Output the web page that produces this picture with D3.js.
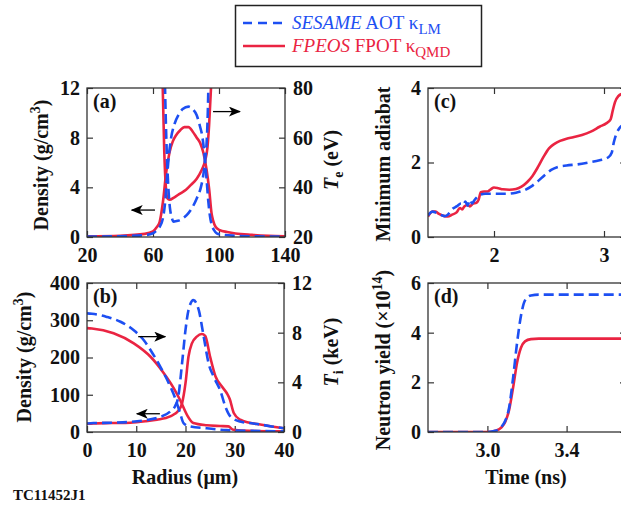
<!DOCTYPE html>
<html>
<head>
<meta charset="utf-8">
<script src="https://cdn.jsdelivr.net/npm/d3@7"></script>
<style>
  body { margin: 0; background: #fff; }
  .tick text { font-size: 20px; font-weight: bold; fill: #111; }
  .tick line { stroke: #333; stroke-width: 1.2; }
  .lbl { font-size: 20px; font-weight: bold; fill: #111; }
</style>
</head>
<body>
<div id="chart"></div>
<script>
// ---- colours ----
const BLUE = "#1d4ff2", RED = "#ea2442";
const SERIF = "Liberation Serif, Times New Roman, Times, Tinos, Nimbus Roman, FreeSerif, DejaVu Serif, Noto Serif, serif";

// ---- panel (a): radius (um) vs density (g/cm3) and Te (eV) ----
const aDensR_red  = [20, 40, 55, 60, 62, 64, 66, 68, 70, 72, 74, 76.5, 79, 81.5, 84, 86.5, 88.5, 90.5, 92.5, 94, 95.5, 96.5, 98, 100.5, 105, 110, 120, 130, 140];
const aDensV_red  = [0.05, 0.1, 0.25, 0.45, 0.75, 1.2, 2.8, 5.2, 6.8, 7.7, 8.2, 8.6, 8.85, 8.85, 8.5, 8.0, 7.6, 6.8, 5.4, 3.9, 1.9, 1.3, 0.8, 0.55, 0.4, 0.28, 0.17, 0.1, 0.06];
const aDensR_blue = [20, 40, 55, 60, 62, 64, 66, 67.5, 68.5, 69.5, 71, 73, 75.5, 78, 81.5, 84, 86.5, 88.5, 90, 91.5, 92.5, 93.5, 94.5, 95.6, 97, 98.6, 102, 110, 120, 130, 140];
const aDensV_blue = [0.03, 0.06, 0.15, 0.3, 0.5, 0.8, 1.5, 3.0, 4.8, 6.4, 8.0, 9.1, 9.85, 10.3, 10.5, 10.3, 9.8, 8.9, 8.0, 6.2, 4.6, 2.9, 1.7, 0.97, 0.55, 0.3, 0.18, 0.1, 0.06, 0.04, 0.03];
const aTeR_red    = [64.5, 65.9, 66.8, 67.8, 68.8, 70, 73, 76.4, 80, 83, 86.5, 89.5, 91.5, 93, 94, 95, 95.8, 97];
const aTeV_red    = [130, 80, 55, 40, 35.5, 35, 36, 37.5, 39, 41, 43.5, 47, 50.5, 56, 65, 78, 90, 130];
const aTeR_blue   = [66, 67.3, 68.3, 69.3, 70.3, 71.3, 72.5, 75, 78, 80.4, 83, 86.5, 89, 90.5, 91.7, 92.5, 93.2, 93.6, 94.5];
const aTeV_blue   = [130, 80, 55, 40, 31.5, 28, 26.2, 26.5, 27.5, 28.8, 31, 35.5, 40, 45, 52, 58, 70, 82, 130];

// ---- panel (b): radius (um) vs density (g/cm3) and Ti (keV) ----
const bDensR_red  = [0, 1.3, 5, 8.8, 12, 14.2, 16.9, 18.6, 19.3, 20, 20.6, 21.3, 22.3, 23.3, 24, 25, 26.1, 27.4, 28.4, 29, 29.8, 31.1, 33, 35.2, 37.5, 40];
const bDensV_red  = [22, 23, 24, 25, 29, 33, 42, 58, 77, 131, 202, 238, 256, 263, 258, 202, 149, 122, 104, 88, 51, 33, 25, 20, 15, 10];
const bDensR_blue = [0, 1.3, 5, 8.8, 12, 14.2, 16.9, 17.9, 18.5, 19.3, 20, 20.6, 21.6, 22.7, 23.7, 24.7, 25.7, 27.1, 28.1, 29.1, 31.1, 33, 35.2, 37.5, 40];
const bDensV_blue = [23, 24, 25, 27, 32, 38, 55, 70, 92, 184, 274, 327, 354, 327, 256, 184, 149, 110, 68, 42, 28, 24, 20, 15, 10];
const bTiR_red    = [0, 1, 5.4, 9.5, 12.9, 15.6, 17.6, 18.9, 20.3, 21.6, 24.3, 27, 28.7, 29.7, 33, 40];
const bTiV_red    = [8.37, 8.34, 7.95, 7.14, 6.06, 4.74, 3.54, 2.58, 1.38, 0.72, 0.54, 0.48, 0.45, 0.18, 0.09, 0.06];
const bTiR_blue   = [0, 1, 4, 6.8, 9.5, 11.5, 13.5, 14.9, 16.6, 17.9, 18.9, 19.6, 20.9, 24.3, 28.3, 33.7, 40];
const bTiV_blue   = [9.55, 9.52, 9.27, 8.88, 8.19, 7.41, 6.21, 5.25, 3.93, 2.73, 1.53, 0.72, 0.45, 0.3, 0.15, 0.09, 0.06];

// ---- panel (c): time (ns) vs minimum adiabat ----
const cT_red  = [1.40, 1.44, 1.47, 1.50, 1.55, 1.58, 1.62, 1.66, 1.69, 1.71, 1.73, 1.76, 1.78, 1.81, 1.84, 1.86, 1.88, 1.91, 1.94, 1.97, 2.00, 2.04, 2.08, 2.14, 2.20, 2.25, 2.30, 2.35, 2.40, 2.45, 2.50, 2.55, 2.60, 2.66, 2.72, 2.80, 2.88, 2.96, 3.02, 3.06, 3.08, 3.10, 3.13, 3.17];
const cV_red  = [0.55, 0.68, 0.68, 0.62, 0.56, 0.55, 0.60, 0.66, 0.78, 0.74, 0.82, 0.86, 0.82, 0.90, 0.92, 1.00, 1.20, 1.22, 1.22, 1.28, 1.33, 1.31, 1.28, 1.27, 1.29, 1.35, 1.47, 1.64, 1.88, 2.15, 2.38, 2.50, 2.58, 2.64, 2.68, 2.74, 2.83, 2.96, 3.05, 3.16, 3.40, 3.62, 3.78, 3.85];
const cT_blue = [1.40, 1.44, 1.47, 1.50, 1.55, 1.58, 1.62, 1.66, 1.70, 1.72, 1.74, 1.76, 1.78, 1.80, 1.82, 1.85, 1.88, 1.92, 2.00, 2.10, 2.20, 2.28, 2.34, 2.40, 2.46, 2.52, 2.58, 2.66, 2.76, 2.86, 2.96, 3.04, 3.07, 3.09, 3.11, 3.14, 3.18];
const cV_blue = [0.58, 0.68, 0.66, 0.62, 0.56, 0.60, 0.75, 0.82, 0.90, 0.86, 0.95, 0.84, 1.00, 0.90, 0.98, 1.08, 1.14, 1.16, 1.16, 1.16, 1.19, 1.26, 1.36, 1.50, 1.66, 1.80, 1.88, 1.92, 1.95, 2.00, 2.06, 2.14, 2.26, 2.55, 2.75, 2.92, 3.02];

// ---- panel (d): time (ns) vs neutron yield (x1e14) ----
const dT_red  = [2.70, 3.00, 3.04, 3.07, 3.09, 3.11, 3.13, 3.15, 3.17, 3.19, 3.22, 3.26, 3.70];
const dV_red  = [0, 0, 0.05, 0.18, 0.40, 0.90, 1.80, 2.80, 3.40, 3.65, 3.74, 3.76, 3.76];
const dT_blue = [2.70, 3.00, 3.04, 3.07, 3.09, 3.11, 3.13, 3.15, 3.17, 3.19, 3.22, 3.26, 3.70];
const dV_blue = [0, 0, 0.05, 0.20, 0.45, 1.00, 2.20, 3.60, 4.70, 5.30, 5.50, 5.53, 5.53];

// ---- ticks ----
const aXTicks = [20, 60, 100, 140], aYTicks = [0, 4, 8, 12], aY2Ticks = [20, 40, 60, 80];
const bXTicks = [0, 10, 20, 30, 40], bYTicks = [0, 100, 200, 300, 400], bY2Ticks = [0, 4, 8, 12];
const cXTicks = [2, 3], cYTicks = [0, 2, 4];
const dXTicks = [3.0, 3.4], dYTicks = [0, 2, 4, 6];

const W = 621, H = 506;
const svg = d3.select("#chart").append("svg").attr("width", W).attr("height", H);
svg.append("rect").attr("width", W).attr("height", H).attr("fill", "#fff");

const defs = svg.append("defs");
defs.append("marker").attr("id", "arr")
    .attr("viewBox", "0 0 12 10").attr("refX", 11).attr("refY", 5)
    .attr("markerWidth", 12).attr("markerHeight", 10).attr("markerUnits", "userSpaceOnUse")
    .attr("orient", "auto")
  .append("path").attr("d", "M0,0 L12,5 L0,10 L3,5 Z").attr("fill", "#000");

function zip(xs, ys) { return xs.map((x, i) => [x, ys[i]]); }

function panel(id, left, top, w, h, xDom, yDom, xTicks, yTicks, fmtX) {
  const g = svg.append("g").attr("transform", `translate(${left},${top})`);
  const x = d3.scaleLinear().domain(xDom).range([0, w]);
  const y = d3.scaleLinear().domain(yDom).range([h, 0]);
  defs.append("clipPath").attr("id", "clip" + id)
    .append("rect").attr("width", w).attr("height", h);

  g.append("g").attr("transform", `translate(0,${h})`)
   .call(d3.axisBottom(x).tickValues(xTicks).tickSize(-6).tickPadding(11).tickFormat(fmtX || d3.format("d")))
   .call(a => a.select(".domain").remove());
  g.append("g").call(d3.axisTop(x).tickValues(xTicks).tickSize(-6).tickFormat(""))
   .call(a => a.select(".domain").remove());
  g.append("g").call(d3.axisLeft(y).tickValues(yTicks).tickSize(-6).tickPadding(7).tickFormat(d3.format("d")))
   .call(a => a.select(".domain").remove());

  const plot = g.append("g").attr("clip-path", `url(#clip${id})`);
  return {g, x, y, plot, w, h};
}

function frame(p) {
  p.g.append("rect").attr("width", p.w).attr("height", p.h)
    .attr("fill", "none").attr("stroke", "#333").attr("stroke-width", 1.3);
}

function curve(p, xs, ys, color, dashed, yScale) {
  const ys2 = yScale || p.y;
  const line = d3.line().x(d => p.x(d[0])).y(d => ys2(d[1])).curve(d3.curveMonotoneX);
  p.plot.append("path").datum(zip(xs, ys)).attr("d", line)
    .attr("fill", "none").attr("stroke", color).attr("stroke-width", 2.6)
    .attr("stroke-linejoin", "round")
    .attr("stroke-dasharray", dashed ? "10,5" : null);
}

function rightAxis(p, dom, ticks, labels) {
  const y2 = d3.scaleLinear().domain(dom).range([p.h, 0]);
  const ax = d3.axisRight(y2).tickValues(ticks).tickSize(-6).tickPadding(8);
  if (!labels) ax.tickFormat("");
  p.g.append("g").attr("transform", `translate(${p.w},0)`)
   .call(ax)
   .call(a => a.select(".domain").remove());
  return y2;
}

function arrow(p, x0, x1, yv) {
  p.g.append("line")
    .attr("x1", p.x(x0)).attr("x2", p.x(x1)).attr("y1", p.y(yv)).attr("y2", p.y(yv))
    .attr("stroke", "#000").attr("stroke-width", 1.3).attr("marker-end", "url(#arr)");
}

function tag(p, txt, dy) {
  p.g.append("text").attr("class", "lbl").attr("x", 6).attr("y", dy).text(txt);
}

// ---- (a) ----
const pa = panel("a", 87, 88, 198, 149, [20, 140], [0, 12], aXTicks, aYTicks);
const aY2 = rightAxis(pa, [20, 80], aY2Ticks, true);
curve(pa, aDensR_red, aDensV_red, RED, false);
curve(pa, aTeR_red, aTeV_red, RED, false, aY2);
curve(pa, aDensR_blue, aDensV_blue, BLUE, true);
curve(pa, aTeR_blue, aTeV_blue, BLUE, true, aY2);
frame(pa);
arrow(pa, 61.2, 47.1, 2.17);
arrow(pa, 96.4, 112.7, 10.1);
tag(pa, "(a)", 20);

// ---- (b) ----
const pb = panel("b", 87, 283, 197, 149, [0, 40], [0, 400], bXTicks, bYTicks);
const bY2 = rightAxis(pb, [0, 12], bY2Ticks, true);
curve(pb, bDensR_red, bDensV_red, RED, false);
curve(pb, bTiR_red, bTiV_red, RED, false, bY2);
curve(pb, bDensR_blue, bDensV_blue, BLUE, true);
curve(pb, bTiR_blue, bTiV_blue, BLUE, true, bY2);
frame(pb);
arrow(pb, 10.4, 15.9, 256);
arrow(pb, 14.8, 10.1, 49);
tag(pb, "(b)", 20);

// ---- (c) ----
const pc = panel("c", 428, 88, 198, 149, [1.4, 3.2], [0, 4], cXTicks, cYTicks);
rightAxis(pc, [0, 4], cYTicks, false);
curve(pc, cT_red, cV_red, RED, false);
curve(pc, cT_blue, cV_blue, BLUE, true);
frame(pc);
tag(pc, "(c)", 20);

// ---- (d) ----
const pd = panel("d", 428, 283, 198, 149, [2.7, 3.7], [0, 6], dXTicks, dYTicks, d3.format(".1f"));
rightAxis(pd, [0, 6], dYTicks, false);
curve(pd, dT_red, dV_red, RED, false);
curve(pd, dT_blue, dV_blue, BLUE, true);
frame(pd);
tag(pd, "(d)", 20);

// ---- axis titles ----
function vtext(x, y) {
  return svg.append("text").attr("class", "lbl").attr("text-anchor", "middle")
    .attr("transform", `translate(${x},${y}) rotate(-90)`);
}
let t = vtext(48, 165);
t.append("tspan").text("Density (g/cm");
t.append("tspan").attr("dy", -8).attr("font-size", 14).text("3");
t.append("tspan").attr("dy", 8).text(")");

t = vtext(31, 357);
t.append("tspan").text("Density (g/cm");
t.append("tspan").attr("dy", -8).attr("font-size", 14).text("3");
t.append("tspan").attr("dy", 8).text(")");

t = vtext(338, 160);
t.append("tspan").attr("font-style", "italic").text("T");
t.append("tspan").attr("dy", 5).attr("font-size", 14).text("e");
t.append("tspan").attr("dy", -5).text(" (eV)");

t = vtext(338, 352);
t.append("tspan").attr("font-style", "italic").text("T");
t.append("tspan").attr("dy", 5).attr("font-size", 14).text("i");
t.append("tspan").attr("dy", -5).text(" (keV)");

vtext(390, 164).text("Minimum adiabat");

t = vtext(390, 360);
t.append("tspan").text("Neutron yield (\u00d710");
t.append("tspan").attr("dy", -8).attr("font-size", 14).text("14");
t.append("tspan").attr("dy", 8).text(")");

svg.append("text").attr("class", "lbl").attr("text-anchor", "middle")
  .attr("x", 185).attr("y", 484).text("Radius (\u03bcm)");
svg.append("text").attr("class", "lbl").attr("text-anchor", "middle")
  .attr("x", 526).attr("y", 484).text("Time (ns)");

svg.append("text").attr("x", 13).attr("y", 500)
  .attr("font-size", 15).attr("font-weight", "bold").attr("fill", "#111").text("TC11452J1");

// ---- legend ----
const lg = svg.append("g");
lg.append("rect").attr("x", 235.5).attr("y", 5.5).attr("width", 246).attr("height", 61)
  .attr("fill", "#fff").attr("stroke", "#222").attr("stroke-width", 1.5);
const legendRows = [
  {color: BLUE, dashed: true, code: "SESAME", model: " AOT ", sub: "LM", y: 23},
  {color: RED, dashed: false, code: "FPEOS", model: " FPOT ", sub: "QMD", y: 46}
];
legendRows.forEach(r => {
  lg.append("line").attr("x1", 243).attr("x2", 285).attr("y1", r.y).attr("y2", r.y)
    .attr("stroke", r.color).attr("stroke-width", 2.6)
    .attr("stroke-dasharray", r.dashed ? "9,6" : null);
  const tx = lg.append("text").attr("x", 292).attr("y", r.y + 6)
    .attr("font-size", 19).attr("fill", r.color);
  tx.append("tspan").attr("font-style", "italic").text(r.code);
  tx.append("tspan").text(r.model + "\u03ba");
  tx.append("tspan").attr("dy", 5).attr("font-size", 15).text(r.sub);
});

// serif everywhere, including the axis groups that d3 marks sans-serif
svg.selectAll("g").attr("font-family", null);
svg.selectAll("text").attr("font-family", SERIF);
</script>
</body>
</html>
